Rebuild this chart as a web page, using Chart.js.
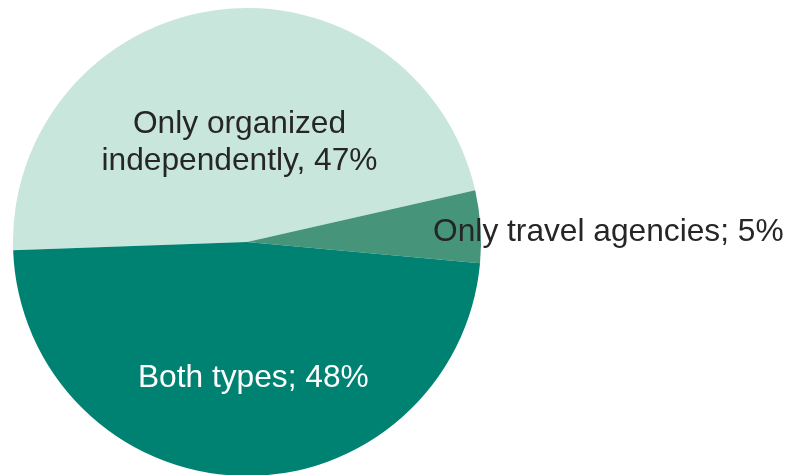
<!DOCTYPE html>
<html>
<head>
<meta charset="utf-8">
<script src="https://cdn.jsdelivr.net/npm/chart.js@4/dist/chart.umd.min.js"></script>
<style>
  html, body { margin: 0; padding: 0; background: #ffffff; overflow: hidden; }
  #wrap { position: relative; width: 792px; height: 480px; }
</style>
</head>
<body>
<div id="wrap"><canvas id="c"></canvas></div>
<script>
// Travel arrangement shares
const categories = ['Only organized independently', 'Only travel agencies', 'Both types'];
const labelTexts = [['Only organized', 'independently, 47%'], ['Only travel agencies; 5%'], ['Both types; 48%']];
const shares = [47, 5, 48];
const sliceColors = ['#c8e6dc', '#46947a', '#008272'];
const labelColors = ['#262626', '#262626', '#ffffff'];

// Where each slice label sits: fraction of the radius along the slice's mid angle, plus a nudge
const labelPlacement = [
  { r: 0.448, dx: 6, dy: 5, align: 'center' },
  { r: 0.797, dx: 0, dy: 3, align: 'left' },
  { r: 0.566, dx: 10, dy: 4, align: 'center' }
];

const sliceLabels = {
  id: 'sliceLabels',
  afterDatasetsDraw(chart) {
    const ctx = chart.ctx;
    const meta = chart.getDatasetMeta(0);
    ctx.save();
    ctx.font = '31.7px "Liberation Sans", Arial, sans-serif';
    ctx.textBaseline = 'middle';
    meta.data.forEach((arc, i) => {
      const p = arc.getProps(['x', 'y', 'startAngle', 'endAngle', 'outerRadius'], true);
      const mid = (p.startAngle + p.endAngle) / 2;
      const cfg = labelPlacement[i];
      const d = p.outerRadius * cfg.r;
      const x = p.x + Math.cos(mid) * d + cfg.dx;
      const y = p.y + Math.sin(mid) * d + cfg.dy;
      const lines = labelTexts[i];
      const lh = 37;
      ctx.fillStyle = labelColors[i];
      ctx.textAlign = cfg.align;
      lines.forEach((t, k) => {
        ctx.fillText(t, x, y + (k - (lines.length - 1) / 2) * lh);
      });
    });
    ctx.restore();
  }
};

new Chart(document.getElementById('c'), {
  type: 'pie',
  data: {
    labels: categories,
    datasets: [{
      data: shares,
      backgroundColor: sliceColors,
      borderWidth: 0
    }]
  },
  options: {
    responsive: true,
    maintainAspectRatio: false,
    devicePixelRatio: 1,
    animation: false,
    rotation: 268,
    layout: { padding: { left: 13, top: 8, right: 311, bottom: 4 } },
    plugins: {
      legend: { display: false },
      tooltip: { enabled: false }
    }
  },
  plugins: [sliceLabels]
});
</script>
</body>
</html>
